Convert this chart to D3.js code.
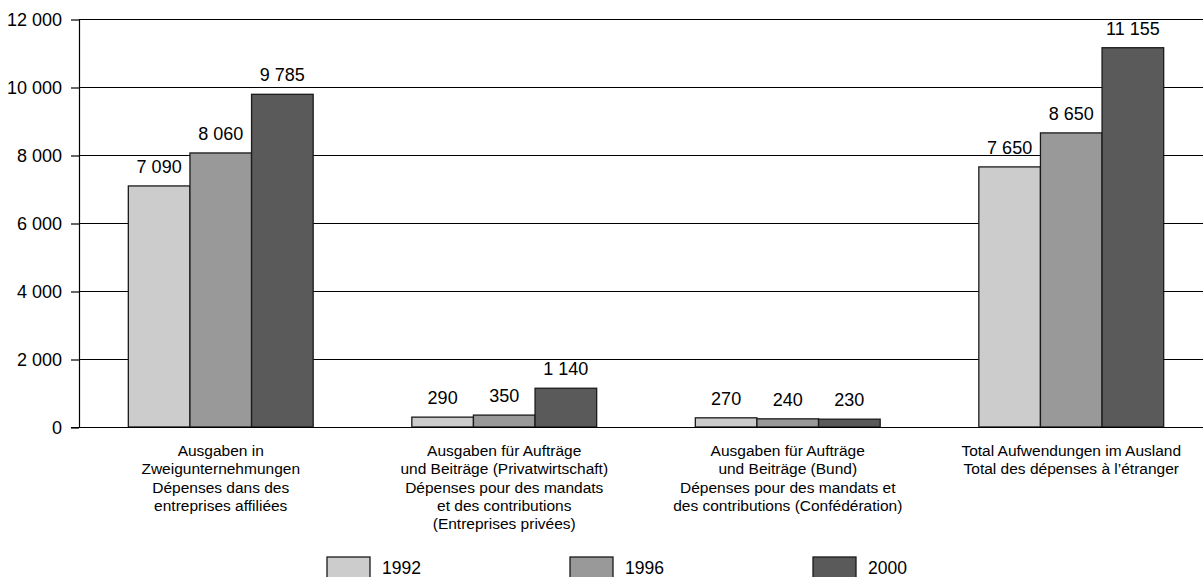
<!DOCTYPE html>
<html>
<head>
<meta charset="utf-8">
<script src="https://cdnjs.cloudflare.com/ajax/libs/d3/7.8.5/d3.min.js"></script>
<style>
  body { margin: 0; background: #fff; }
  svg { display: block; font-family: "Liberation Sans", Arial, Helvetica, sans-serif; }
</style>
</head>
<body>
<div id="chart"></div>
<script>
// categories (each label is split in lines)
const categories = [
    ['Ausgaben in', 'Zweigunternehmungen', 'Dépenses dans des', 'entreprises affiliées'],
    ['Ausgaben für Aufträge', 'und Beiträge (Privatwirtschaft)', 'Dépenses pour des mandats', 'et des contributions', '(Entreprises privées)'],
    ['Ausgaben für Aufträge', 'und Beiträge (Bund)', 'Dépenses pour des mandats et', 'des contributions (Confédération)'],
    ['Total Aufwendungen im Ausland', 'Total des dépenses à l’étranger']
];
const years = ['1992', '1996', '2000'];
const values1992 = [7090, 290, 270, 7650];
const values1996 = [8060, 350, 240, 8650];
const values2000 = [9785, 1140, 230, 11155];
const yTicks = [0, 2000, 4000, 6000, 8000, 10000, 12000];

const colors = ['#cccccc', '#999999', '#5a5a5a'];
const series = [values1992, values1996, values2000];

const W = 1203, H = 577;
const plotLeft = 79, plotTop = 19, plotBottom = 427;

const fmt = (v) => d3.format(',')(v).replace(/,/g, ' ');

const svg = d3.select('#chart').append('svg')
    .attr('width', W)
    .attr('height', H);

const y = d3.scaleLinear().domain([0, 12000]).range([plotBottom, plotTop]);

const x0 = d3.scaleBand()
    .domain(d3.range(categories.length))
    .range([plotLeft, plotLeft + 1134])
    .paddingInner(0.348)
    .paddingOuter(0.174);

const x1 = d3.scaleBand()
    .domain(years)
    .range([0, x0.bandwidth()]);

// grid lines
svg.append('g').selectAll('line')
    .data(yTicks.filter((d) => d > 0))
    .enter().append('line')
    .attr('x1', plotLeft).attr('x2', W)
    .attr('y1', (d) => y(d) + 0.5).attr('y2', (d) => y(d) + 0.5)
    .attr('stroke', '#000').attr('stroke-width', 1.2);

// y axis
const yAxis = d3.axisLeft(y)
    .tickValues(yTicks)
    .tickSize(8)
    .tickPadding(9)
    .tickFormat(fmt);

const ya = svg.append('g')
    .attr('transform', `translate(${plotLeft},0.5)`)
    .call(yAxis);
ya.select('.domain').remove();
ya.selectAll('line').attr('stroke', '#000').attr('stroke-width', 1.2);
ya.selectAll('text').style('font-size', '18px').attr('fill', '#000')
    .style('font-family', '"Liberation Sans", Arial, sans-serif');

svg.append('line')
    .attr('x1', plotLeft + 0.5).attr('x2', plotLeft + 0.5)
    .attr('y1', plotTop).attr('y2', plotBottom + 0.5)
    .attr('stroke', '#000').attr('stroke-width', 1.2);

// bars
const groups = svg.append('g').selectAll('g')
    .data(categories)
    .enter().append('g')
    .attr('transform', (d, i) => `translate(${x0(i)},0)`);

groups.each(function(d, i) {
    const g = d3.select(this);
    years.forEach((yr, k) => {
        const v = series[k][i];
        g.append('rect')
            .attr('x', x1(yr))
            .attr('y', y(v))
            .attr('width', x1.bandwidth())
            .attr('height', y(0) - y(v))
            .attr('fill', colors[k])
            .attr('stroke', '#1a1a1a')
            .attr('stroke-width', 1.3);
        g.append('text')
            .attr('x', x1(yr) + x1.bandwidth() / 2)
            .attr('y', y(v) - 13)
            .attr('text-anchor', 'middle')
            .style('font-size', '18px')
            .text(fmt(v));
    });
});

// x axis base line
svg.append('line')
    .attr('x1', plotLeft - 8).attr('x2', W)
    .attr('y1', plotBottom + 0.5).attr('y2', plotBottom + 0.5)
    .attr('stroke', '#000').attr('stroke-width', 1.2);

// category labels
groups.append('text')
    .attr('text-anchor', 'middle')
    .style('font-size', '15.5px')
    .selectAll('tspan')
    .data((d) => d)
    .enter().append('tspan')
    .attr('x', x0.bandwidth() / 2)
    .attr('y', (d, j) => 456 + j * 18.3)
    .text((d) => d);

// legend
const legend = svg.append('g').selectAll('g')
    .data(years)
    .enter().append('g')
    .attr('transform', (d, i) => `translate(${327 + i * 243},557)`);

legend.append('rect')
    .attr('width', 43).attr('height', 24)
    .attr('fill', (d, i) => colors[i])
    .attr('stroke', '#1a1a1a').attr('stroke-width', 1.3);

legend.append('text')
    .attr('x', 55).attr('y', 17)
    .style('font-size', '17.5px')
    .text((d) => d);
</script>
</body>
</html>
